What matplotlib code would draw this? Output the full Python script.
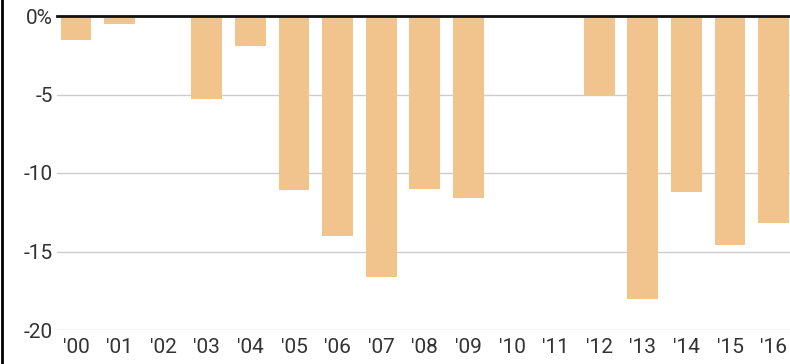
import matplotlib
matplotlib.use("Agg")
import matplotlib.pyplot as plt
from matplotlib.lines import Line2D

years = ["'00", "'01", "'02", "'03", "'04", "'05", "'06", "'07", "'08",
         "'09", "'10", "'11", "'12", "'13", "'14", "'15", "'16"]
values = [-1.5, -0.5, 0.0, -5.3, -1.9, -11.1, -14.0, -16.6, -11.0,
          -11.6, 0.0, 0.0, -5.0, -18.0, -11.2, -14.6, -13.2]
yticks = [0, -5, -10, -15, -20]
ytick_labels = ["0%", "-5", "-10", "-15", "-20"]

plt.rcParams["font.family"] = ["Roboto", "DejaVu Sans"]

fig = plt.figure(figsize=(7.9, 3.64), dpi=100)
ax = fig.add_axes([57 / 790, 34 / 364, 733 / 790, 314 / 364])

x = list(range(len(years)))
ax.bar(x, values, width=0.71, color="#F2C48D", zorder=2)

ax.set_xlim(-0.436, 16.376)
ax.set_ylim(-20, 0)
ax.set_yticks(yticks)
ax.set_yticklabels(ytick_labels)
ax.set_xticks(x)
ax.set_xticklabels(years)

ax.grid(axis="y", color="#cccccc", linewidth=1, zorder=0)
ax.axhline(0, color="#111111", linewidth=2, zorder=3, clip_on=False)

for side in ["top", "right", "bottom", "left"]:
    ax.spines[side].set_visible(False)
ax.tick_params(axis="both", length=0, labelsize=15, labelcolor="#333333")
ax.tick_params(axis="y", pad=3)
ax.tick_params(axis="x", pad=6)

fig.add_artist(Line2D([0.002, 0.002], [0, 1], color="black", linewidth=2,
                      transform=fig.transFigure))

fig.savefig("out.png", dpi=100)
